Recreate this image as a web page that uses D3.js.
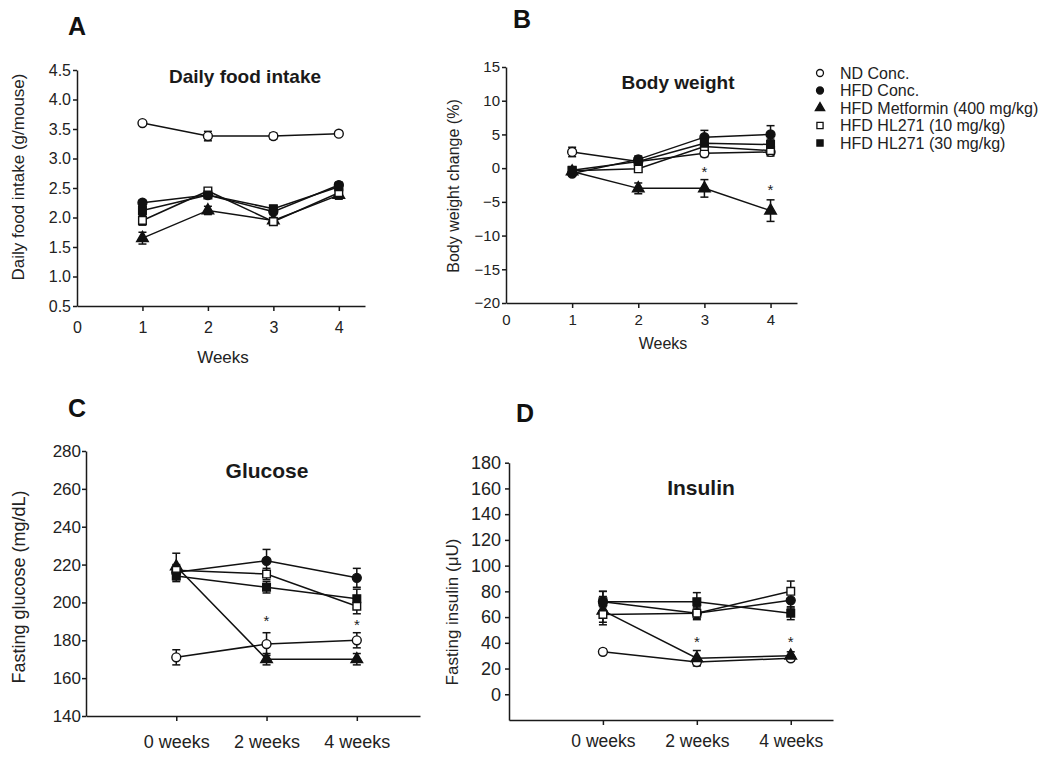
<!DOCTYPE html>
<html>
<head>
<meta charset="utf-8">
<script src="https://cdn.jsdelivr.net/npm/d3@7.9.0/dist/d3.min.js"></script>
<style>
  body { margin: 0; background: #fff; }
  svg { display: block; font-family: "Liberation Sans", Arial, sans-serif; }
  .axis path, .axis line { stroke: #1a1a1a; stroke-width: 1.5; }
  .axis text { fill: #222; }
</style>
</head>
<body>
<svg id="fig" width="1043" height="757"></svg>
<script>
// groups, same order in every panel
const groups = ['ND Conc.', 'HFD Conc.', 'HFD Metformin (400 mg/kg)', 'HFD HL271 (10 mg/kg)', 'HFD HL271 (30 mg/kg)'];

// A / B x values
const weeks = [1, 2, 3, 4];
const weekTicks = [0, 1, 2, 3, 4];
// C / D categories
const timepoints = ['0 weeks', '2 weeks', '4 weeks'];

// A: daily food intake (g/mouse), mean and error
const foodND = [3.60, 3.38, 3.38, 3.42];
const foodHFD = [2.25, 2.38, 2.10, 2.55];
const foodMet = [1.65, 2.12, 1.95, 2.38];
const foodHL10 = [1.95, 2.45, 1.93, 2.42];
const foodHL30 = [2.12, 2.38, 2.15, 2.52];
const foodErrND = [0.03, 0.08, 0.05, 0.04];
const foodErrHFD = [0.04, 0.04, 0.05, 0.05];
const foodErrMet = [0.10, 0.07, 0.05, 0.07];
const foodErrHL10 = [0.08, 0.05, 0.04, 0.05];
const foodErrHL30 = [0.10, 0.05, 0.05, 0.05];

// B: body weight change (%)
const bwND = [2.4, 1.0, 2.2, 2.4];
const bwHFD = [-0.8, 1.3, 4.6, 5.0];
const bwMet = [-0.5, -3.0, -3.0, -6.3];
const bwHL10 = [-0.4, -0.1, 3.2, 2.6];
const bwHL30 = [-0.3, 1.0, 3.7, 3.5];
const bwErrND = [0.7, 0.4, 0.5, 0.6];
const bwErrHFD = [0.4, 0.5, 1.0, 1.3];
const bwErrMet = [0.4, 0.8, 1.3, 1.6];
const bwErrHL10 = [0.4, 0.5, 0.6, 0.6];
const bwErrHL30 = [0.5, 0.5, 0.8, 0.8];
const bwStars = [[3, -0.3], [4, -3.0]];

// C: fasting glucose (mg/dL)
const gluND = [171, 178, 180];
const gluHFD = [216, 222, 213];
const gluMet = [219, 170, 170];
const gluHL10 = [217, 215, 198];
const gluHL30 = [214, 208, 202];
const gluErrND = [4, 6, 4];
const gluErrHFD = [3, 6, 5];
const gluErrMet = [7, 3, 3];
const gluErrHL10 = [3, 3, 4];
const gluErrHL30 = [3, 3, 5];
const gluStars = [[1, 191], [2, 189]];

// D: fasting insulin (uU)
const insND = [33, 25, 28];
const insHFD = [72, 63, 73];
const insMet = [65, 28, 30];
const insHL10 = [62, 63, 80];
const insHL30 = [72, 72, 63];
const insErrND = [2, 2, 2];
const insErrHFD = [8, 5, 6];
const insErrMet = [11, 6, 3];
const insErrHL10 = [6, 4, 8];
const insErrHL30 = [8, 7, 5];
const insStars = [[1, 42], [2, 42]];

const svg = d3.select('#fig');

// marker look per group
const markerType = [d3.symbolCircle, d3.symbolCircle, d3.symbolTriangle, d3.symbolSquare, d3.symbolSquare];
const markerFill = ['#fff', '#111', '#111', '#fff', '#111'];
const markerSize = [62, 62, 58, 58, 58];

function drawPanel(p) {
  const g = svg.append('g');
  const y0 = p.y.range()[0];
  const x0 = p.x.range()[0];

  // x axis
  const xa = g.append('g').attr('class', 'axis')
    .attr('transform', `translate(0,${y0})`)
    .call(d3.axisBottom(p.x).tickValues(p.xTicks).tickFormat(p.xFormat)
      .tickSize(5).tickSizeOuter(0).tickPadding(p.xPad))
    .attr('font-size', p.xFont).attr('font-family', null);
  xa.selectAll('.tick').filter(d => d === 0 && p.hideZeroTick).select('line').remove();

  // y axis
  g.append('g').attr('class', 'axis')
    .attr('transform', `translate(${x0},0)`)
    .call(d3.axisLeft(p.y).tickValues(p.yTicks).tickFormat(p.yFormat)
      .tickSize(4).tickSizeOuter(0).tickPadding(p.yPad))
    .attr('font-size', p.yFont).attr('font-family', null);

  // lines
  const line = d3.line().x((d, i) => p.x(p.xs[i])).y(d => p.y(d));
  p.means.forEach(m => {
    g.append('path').attr('d', line(m))
      .attr('fill', 'none').attr('stroke', '#111').attr('stroke-width', 1.5);
  });

  // error bars
  p.means.forEach((m, k) => {
    m.forEach((v, i) => {
      const e = p.errs[k][i];
      const cx = p.x(p.xs[i]);
      const eb = g.append('g').attr('stroke', '#111').attr('stroke-width', 1.5);
      eb.append('line').attr('x1', cx).attr('x2', cx).attr('y1', p.y(v - e)).attr('y2', p.y(v + e));
      [v - e, v + e].forEach(t => {
        eb.append('line').attr('x1', cx - 4).attr('x2', cx + 4).attr('y1', p.y(t)).attr('y2', p.y(t));
      });
    });
  });

  // markers
  p.means.forEach((m, k) => {
    const sym = d3.symbol().type(markerType[k]).size(markerSize[k]);
    m.forEach((v, i) => {
      g.append('path').attr('d', sym())
        .attr('transform', `translate(${p.x(p.xs[i])},${p.y(v)})`)
        .attr('fill', markerFill[k]).attr('stroke', '#111').attr('stroke-width', 1.4);
    });
  });

  // significance stars
  (p.stars || []).forEach(([xi, v]) => {
    g.append('text').attr('x', p.x(xi)).attr('y', p.y(v) + 7)
      .attr('text-anchor', 'middle').attr('font-size', 15).attr('fill', '#222').text('*');
  });

  // title
  g.append('text').attr('x', p.title[1]).attr('y', p.title[2])
    .attr('text-anchor', 'middle').attr('font-weight', 'bold')
    .attr('font-size', p.titleFont).attr('fill', '#1a1a1a').text(p.title[0]);

  // panel letter
  g.append('text').attr('x', p.letter[1]).attr('y', p.letter[2])
    .attr('font-weight', 'bold').attr('font-size', 25).attr('fill', '#111').text(p.letter[0]);

  // y label
  g.append('text')
    .attr('transform', `translate(${p.ylab[1]},${p.ylab[2]}) rotate(-90)`)
    .attr('text-anchor', 'middle').attr('dy', '0.35em')
    .attr('font-size', p.ylab[3]).attr('fill', '#222').text(p.ylab[0]);

  // x label
  if (p.xlab) {
    g.append('text').attr('x', p.xlab[1]).attr('y', p.xlab[2])
      .attr('text-anchor', 'middle').attr('font-size', p.xlab[3])
      .attr('fill', '#222').text(p.xlab[0]);
  }
}

// Panel A
drawPanel({
  x: d3.scaleLinear().domain([0, 4.4]).range([77, 365]),
  y: d3.scaleLinear().domain([0.5, 4.5]).range([306, 70]),
  xs: weeks, xTicks: weekTicks, xFormat: d3.format('d'), xPad: 11, xFont: 16, hideZeroTick: true,
  yTicks: d3.range(0.5, 4.51, 0.5), yFormat: d3.format('.1f'), yPad: 2, yFont: 16,
  means: [foodND, foodHFD, foodMet, foodHL10, foodHL30],
  errs: [foodErrND, foodErrHFD, foodErrMet, foodErrHL10, foodErrHL30],
  title: ['Daily food intake', 245, 83], titleFont: 19,
  letter: ['A', 68, 35],
  ylab: ['Daily food intake (g/mouse)', 18, 177, 17],
  xlab: ['Weeks', 223, 363, 17]
});

// Panel B
drawPanel({
  x: d3.scaleLinear().domain([0, 4.4]).range([506, 797]),
  y: d3.scaleLinear().domain([-20, 15]).range([303, 67]),
  xs: weeks, xTicks: weekTicks, xFormat: d3.format('d'), xPad: 6, xFont: 15, hideZeroTick: true,
  yTicks: d3.range(-20, 16, 5), yFormat: d3.format('d'), yPad: 2, yFont: 15,
  means: [bwND, bwHFD, bwMet, bwHL10, bwHL30],
  errs: [bwErrND, bwErrHFD, bwErrMet, bwErrHL10, bwErrHL30],
  stars: bwStars,
  title: ['Body weight', 678, 89], titleFont: 19,
  letter: ['B', 513, 28],
  ylab: ['Body weight change (%)', 453, 186, 16],
  xlab: ['Weeks', 663, 349, 16]
});

// Panel C
drawPanel({
  x: d3.scaleLinear().domain([-1, 2.7]).range([86, 420]),
  y: d3.scaleLinear().domain([140, 280]).range([716, 451]),
  xs: [0, 1, 2], xTicks: [0, 1, 2], xFormat: i => timepoints[i], xPad: 14, xFont: 18,
  yTicks: d3.range(140, 281, 20), yFormat: d3.format('d'), yPad: 1, yFont: 17,
  means: [gluND, gluHFD, gluMet, gluHL10, gluHL30],
  errs: [gluErrND, gluErrHFD, gluErrMet, gluErrHL10, gluErrHL30],
  stars: gluStars,
  title: ['Glucose', 267, 478], titleFont: 21,
  letter: ['C', 68, 417],
  ylab: ['Fasting glucose (mg/dL)', 19, 587, 18]
});

// Panel D
drawPanel({
  x: d3.scaleLinear().domain([-1, 2.45]).range([509, 833]),
  y: d3.scaleLinear().domain([-20, 180]).range([720, 462.7]),
  xs: [0, 1, 2], xTicks: [0, 1, 2], xFormat: i => timepoints[i], xPad: 10, xFont: 17.5,
  yTicks: d3.range(0, 181, 20), yFormat: d3.format('d'), yPad: 4, yFont: 18,
  means: [insND, insHFD, insMet, insHL10, insHL30],
  errs: [insErrND, insErrHFD, insErrMet, insErrHL10, insErrHL30],
  stars: insStars,
  title: ['Insulin', 701, 495], titleFont: 21,
  letter: ['D', 516, 422],
  ylab: ['Fasting insulin (\u03bcU)', 452, 612, 17]
});

// legend
const legend = svg.append('g').attr('transform', 'translate(820,73)');
groups.forEach((name, k) => {
  const row = legend.append('g').attr('transform', `translate(0,${k * 17.5})`);
  row.append('path').attr('d', d3.symbol().type(markerType[k]).size(38)())
    .attr('fill', markerFill[k]).attr('stroke', '#111').attr('stroke-width', 1.3);
  row.append('text').attr('x', 20).attr('dy', '0.36em')
    .attr('font-size', 16).attr('fill', '#222').text(name);
});
</script>
</body>
</html>
